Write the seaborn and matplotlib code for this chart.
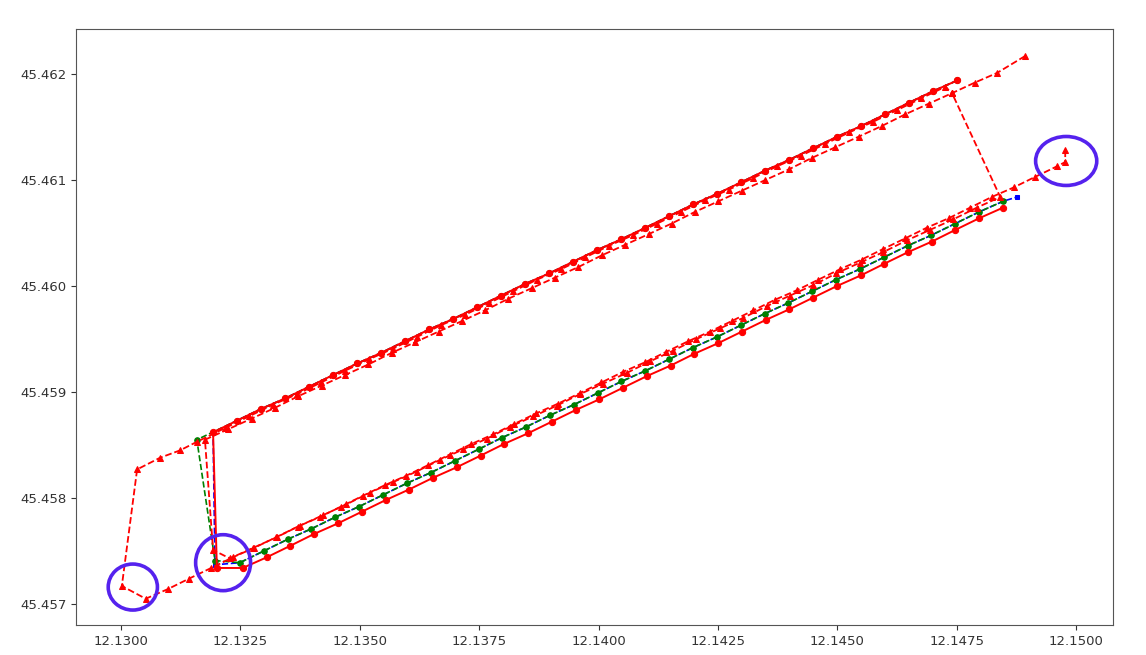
import matplotlib
matplotlib.use("Agg")
import matplotlib.pyplot as plt
import seaborn as sns
from matplotlib.patches import Ellipse
from matplotlib.ticker import FormatStrFormatter

# upper leg (north-west going), read along the solid track
up_lon = [12.13193, 12.13243, 12.13293, 12.13344, 12.13394, 12.13444, 12.13495, 12.13545,
          12.13595, 12.13645, 12.13696, 12.13746, 12.13796, 12.13846, 12.13897, 12.13947,
          12.13997, 12.14047, 12.14098, 12.14148, 12.14198, 12.14248, 12.14299, 12.14349,
          12.14399, 12.14449, 12.14500, 12.14550, 12.14600, 12.14650, 12.14701, 12.14751]
up_lat = [45.45862, 45.45873, 45.45884, 45.45894, 45.45905, 45.45916, 45.45927, 45.45937,
          45.45948, 45.45959, 45.45969, 45.45980, 45.45991, 45.46002, 45.46012, 45.46023,
          45.46034, 45.46044, 45.46055, 45.46066, 45.46077, 45.46087, 45.46098, 45.46109,
          45.46119, 45.46130, 45.46141, 45.46151, 45.46162, 45.46173, 45.46184, 45.46194]

# lower leg, middle track (gps / filtered)
mid_lon = [12.13249, 12.13299, 12.13349, 12.13399, 12.13449, 12.13499, 12.13549, 12.13599,
           12.13649, 12.13699, 12.13749, 12.13798, 12.13848, 12.13898, 12.13948, 12.13998,
           12.14048, 12.14098, 12.14148, 12.14198, 12.14248, 12.14298, 12.14348, 12.14397,
           12.14447, 12.14497, 12.14547, 12.14597, 12.14647, 12.14697, 12.14747, 12.14797,
           12.14847]
mid_lat = [45.45739, 45.45750, 45.45761, 45.45771, 45.45782, 45.45792, 45.45803, 45.45814,
           45.45824, 45.45835, 45.45846, 45.45857, 45.45867, 45.45878, 45.45888, 45.45899,
           45.45910, 45.45920, 45.45931, 45.45942, 45.45952, 45.45963, 45.45974, 45.45984,
           45.45995, 45.46006, 45.46016, 45.46027, 45.46038, 45.46048, 45.46059, 45.46070,
           45.46080]

# lower leg, bottom track (solid red)
bot_lon = [12.13255, 12.13305, 12.13355, 12.13404, 12.13454, 12.13504, 12.13554, 12.13603,
           12.13653, 12.13703, 12.13753, 12.13802, 12.13852, 12.13902, 12.13952, 12.14001,
           12.14051, 12.14101, 12.14151, 12.14200, 12.14250, 12.14300, 12.14350, 12.14399,
           12.14449, 12.14499, 12.14549, 12.14598, 12.14648, 12.14698, 12.14747, 12.14797,
           12.14847]
bot_lat = [45.45734, 45.45744, 45.45755, 45.45766, 45.45776, 45.45787, 45.45798, 45.45808,
           45.45819, 45.45829, 45.45840, 45.45851, 45.45861, 45.45872, 45.45883, 45.45893,
           45.45904, 45.45915, 45.45925, 45.45936, 45.45946, 45.45957, 45.45968, 45.45978,
           45.45989, 45.46000, 45.46010, 45.46021, 45.46032, 45.46042, 45.46053, 45.46064,
           45.46074]

# lower leg, top track (dashed red)
top_lon = [12.13052, 12.13098, 12.13143, 12.13189, 12.13234, 12.13279, 12.13325, 12.13370,
           12.13416, 12.13461, 12.13506, 12.13552, 12.13597, 12.13643, 12.13688, 12.13734,
           12.13779, 12.13824, 12.13870, 12.13915, 12.13961, 12.14006, 12.14051, 12.14097,
           12.14142, 12.14188, 12.14233, 12.14279, 12.14324, 12.14369, 12.14415, 12.14460,
           12.14506, 12.14551, 12.14596, 12.14642, 12.14687, 12.14733, 12.14778, 12.14823,
           12.14869, 12.14914, 12.14960]
top_lat = [45.45705, 45.45714, 45.45724, 45.45734, 45.45744, 45.45753, 45.45763, 45.45773,
           45.45782, 45.45792, 45.45802, 45.45812, 45.45821, 45.45831, 45.45841, 45.45851,
           45.45860, 45.45870, 45.45880, 45.45889, 45.45899, 45.45909, 45.45919, 45.45928,
           45.45938, 45.45948, 45.45957, 45.45967, 45.45977, 45.45987, 45.45996, 45.46006,
           45.46016, 45.46025, 45.46035, 45.46045, 45.46055, 45.46064, 45.46074, 45.46084,
           45.46093, 45.46103, 45.46113]

# second dashed estimate, lower leg (east to west)
t2_lon = [12.14841, 12.14792, 12.14743, 12.14694, 12.14645, 12.14596, 12.14547, 12.14498,
          12.14450, 12.14401, 12.14352, 12.14303, 12.14254, 12.14205, 12.14156, 12.14108,
          12.14059, 12.14010, 12.13961, 12.13912, 12.13863, 12.13814, 12.13766, 12.13717,
          12.13668, 12.13619, 12.13570, 12.13521, 12.13472, 12.13424, 12.13375, 12.13326,
          12.13277, 12.13228]
t2_lat = [45.46084, 45.46074, 45.46063, 45.46053, 45.46043, 45.46032, 45.46022, 45.46012,
          45.46001, 45.45991, 45.45981, 45.45970, 45.45960, 45.45950, 45.45939, 45.45929,
          45.45918, 45.45908, 45.45898, 45.45887, 45.45877, 45.45867, 45.45856, 45.45846,
          45.45836, 45.45825, 45.45815, 45.45805, 45.45794, 45.45784, 45.45774, 45.45763,
          45.45753, 45.45743]

# second dashed estimate, upper leg
u2_lon = [12.13176, 12.13225, 12.13274, 12.13322, 12.13371, 12.13420, 12.13469, 12.13518,
          12.13567, 12.13616, 12.13665, 12.13714, 12.13762, 12.13811, 12.13860, 12.13909,
          12.13958, 12.14007, 12.14056, 12.14105, 12.14153, 12.14202, 12.14251, 12.14300,
          12.14349, 12.14398, 12.14447, 12.14496, 12.14545, 12.14593, 12.14642, 12.14691,
          12.14740]
u2_lat = [45.45855, 45.45865, 45.45875, 45.45885, 45.45896, 45.45906, 45.45916, 45.45926,
          45.45937, 45.45947, 45.45957, 45.45967, 45.45977, 45.45988, 45.45998, 45.46008,
          45.46018, 45.46029, 45.46039, 45.46049, 45.46059, 45.46070, 45.46080, 45.46090,
          45.46100, 45.46110, 45.46121, 45.46131, 45.46141, 45.46151, 45.46162, 45.46172,
          45.46182]

# first dashed estimate, upper leg
upa_lon = [12.13218, 12.13268, 12.13318, 12.13369, 12.13419, 12.13469, 12.13520, 12.13570,
           12.13620, 12.13670, 12.13721, 12.13771, 12.13821, 12.13871, 12.13922, 12.13972,
           12.14022, 12.14072, 12.14123, 12.14173, 12.14223, 12.14273, 12.14324, 12.14374,
           12.14424, 12.14474, 12.14525, 12.14575, 12.14625, 12.14675, 12.14726]
upa_lat = [45.45866, 45.45877, 45.45888, 45.45898, 45.45909, 45.45920, 45.45931, 45.45941,
           45.45952, 45.45963, 45.45973, 45.45984, 45.45995, 45.46006, 45.46016, 45.46027,
           45.46038, 45.46048, 45.46059, 45.46070, 45.46081, 45.46091, 45.46102, 45.46113,
           45.46123, 45.46134, 45.46145, 45.46155, 45.46166, 45.46177, 45.46188]

# circled spots
ring_lon = [12.13025, 12.13214, 12.14979]
ring_lat = [45.45716, 45.45739, 45.46118]

# build the tracks
blue_lon = up_lon[::-1] + [12.13197] + mid_lon + [12.14876]
blue_lat = up_lat[::-1] + [45.45737] + mid_lat + [45.46084]

green_lon = up_lon[:0:-1] + [12.13159, 12.13197] + mid_lon
green_lat = up_lat[:0:-1] + [45.45855, 45.45741] + mid_lat

red_lon = up_lon[::-1] + [12.13201] + bot_lon
red_lat = up_lat[::-1] + [45.45734] + bot_lat

a_lon = [12.14977, 12.14977] + top_lon[::-1] + [12.13002, 12.13034, 12.13082, 12.13124, 12.13159] + upa_lon + [12.14740]
a_lat = [45.46128, 45.46117] + top_lat[::-1] + [45.45717, 45.45827, 45.45838, 45.45845, 45.45853] + upa_lat + [45.46182]

b_lon = [12.14893, 12.14834, 12.14788, u2_lon[-1]] + t2_lon + [12.13193] + u2_lon
b_lat = [45.46217, 45.46201, 45.46192, u2_lat[-1]] + t2_lat + [45.45751] + u2_lat

fig = plt.figure(figsize=(11.46, 6.55), dpi=100)
ax = fig.add_axes([0.0663, 0.0458, 0.9049, 0.9099])

sns.lineplot(x=blue_lon, y=blue_lat, sort=False, estimator=None, color="blue", linestyle="--",
             linewidth=1.2, marker="s", markersize=3.5, markeredgecolor="blue", ax=ax)
sns.lineplot(x=green_lon, y=green_lat, sort=False, estimator=None, color="green", linestyle="--",
             linewidth=1.2, marker="o", markersize=4, markeredgecolor="green", ax=ax)
sns.lineplot(x=red_lon, y=red_lat, sort=False, estimator=None, color="red", linestyle="-",
             linewidth=1.4, marker="o", markersize=4.5, markeredgecolor="red", ax=ax)
sns.lineplot(x=a_lon, y=a_lat, sort=False, estimator=None, color="red", linestyle="--",
             linewidth=1.3, marker="^", markersize=4.5, markeredgecolor="red", ax=ax)
sns.lineplot(x=b_lon, y=b_lat, sort=False, estimator=None, color="red", linestyle="--",
             linewidth=1.3, marker="^", markersize=4.5, markeredgecolor="red", ax=ax)

# purple rings
ring_size = [(0.00103, 0.000434), (0.00115, 0.000528), (0.00128, 0.000462)]
for cx, cy, (w, h) in zip(ring_lon, ring_lat, ring_size):
    ax.add_patch(Ellipse((cx, cy), w, h, fill=False, edgecolor="#5522ee", linewidth=2.6, zorder=5))

ax.set_xlim(12.12906, 12.15077)
ax.set_ylim(45.456802, 45.462425)
ax.set_xticks([12.13 + 0.0025 * i for i in range(9)])
ax.set_yticks([45.457 + 0.001 * i for i in range(6)])
ax.xaxis.set_major_formatter(FormatStrFormatter("%.4f"))
ax.yaxis.set_major_formatter(FormatStrFormatter("%.3f"))
ax.tick_params(labelsize=9.5, colors="#333333")
for s in ax.spines.values():
    s.set_color("#555555")
ax.set_xlabel("")
ax.set_ylabel("")

fig.savefig("out.png", dpi=100)
